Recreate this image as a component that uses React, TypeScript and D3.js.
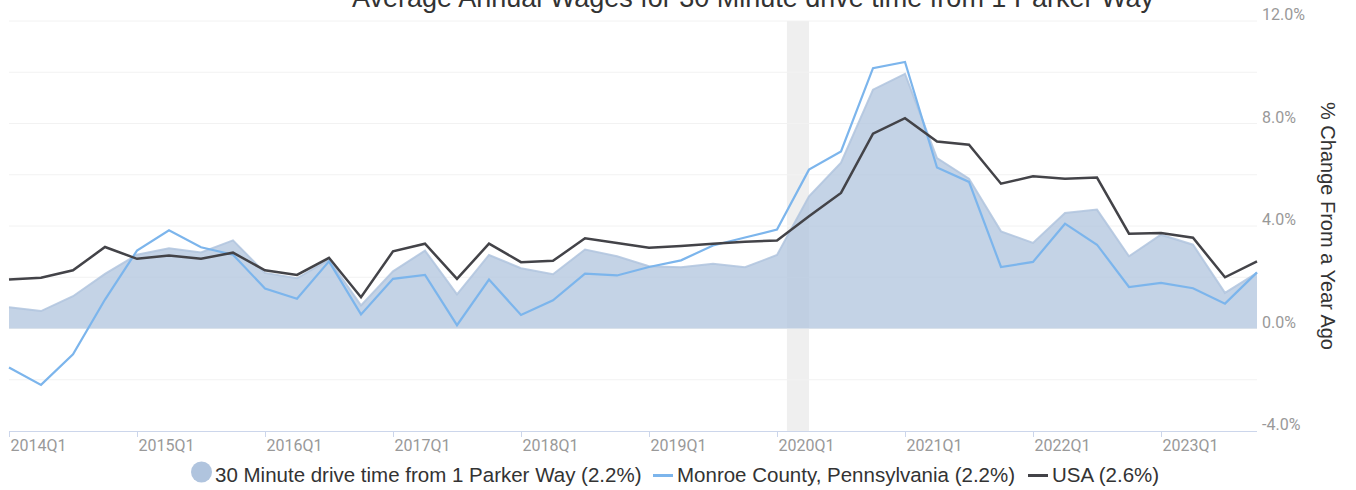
import React, { useEffect, useRef } from 'react';
import * as d3 from 'd3';

// quarters 2014Q1 .. 2023Q4
const years = d3.range(2014, 2024);
const quarters: string[] = years.flatMap((y) => [1, 2, 3, 4].map((q) => `${y}Q${q}`));

const driveTime = [
  0.83, 0.68, 1.26, 2.13, 2.88, 3.13, 2.97, 3.44, 2.17, 1.96,
  2.69, 0.9, 2.23, 3.04, 1.33, 2.87, 2.35, 2.12, 3.08, 2.82,
  2.43, 2.39, 2.53, 2.39, 2.87, 5.16, 6.47, 9.32, 9.94, 6.65,
  5.85, 3.79, 3.34, 4.51, 4.64, 2.82, 3.66, 3.27, 1.39, 2.17,
];
const monroe = [
  -1.52, -2.2, -1.01, 1.13, 3.04, 3.83, 3.17, 2.88, 1.56, 1.16,
  2.62, 0.55, 1.94, 2.09, 0.13, 1.91, 0.53, 1.1, 2.14, 2.07,
  2.4, 2.66, 3.24, 3.55, 3.86, 6.2, 6.91, 10.16, 10.4, 6.28,
  5.72, 2.4, 2.6, 4.09, 3.27, 1.62, 1.78, 1.57, 0.97, 2.19,
];
const usa = [
  1.91, 1.98, 2.27, 3.18, 2.72, 2.85, 2.72, 2.96, 2.27, 2.09,
  2.76, 1.22, 3.01, 3.31, 1.94, 3.31, 2.59, 2.64, 3.52, 3.34,
  3.15, 3.22, 3.31, 3.39, 3.43, 4.38, 5.29, 7.6, 8.21, 7.3,
  7.17, 5.65, 5.94, 5.84, 5.89, 3.7, 3.73, 3.54, 2.0, 2.62,
];

const yTicks = [-4, 0, 4, 8, 12];
const yGrid = [-2, 0, 2, 4, 6, 8, 10, 12];
const xTickLabels = ['2014Q1', '2015Q1', '2016Q1', '2017Q1', '2018Q1', '2019Q1', '2020Q1', '2021Q1', '2022Q1', '2023Q1'];
const recession = [24.31, 25.0]; // Feb 2020 .. Apr 2020, in quarter index units

const title = 'Average Annual Wages for 30 Minute drive time from 1 Parker Way';
const yTitle = '% Change From a Year Ago';
const legendNames = [
  '30 Minute drive time from 1 Parker Way (2.2%)',
  'Monroe County, Pennsylvania (2.2%)',
  'USA (2.6%)',
];

const W = 1356;
const H = 490;
const FONT = 'Roboto, "Liberation Sans", Arial, sans-serif';
const SANS = '"Liberation Sans", Arial, Helvetica, sans-serif';

const App = () => {
  const svgRef = useRef<SVGSVGElement>(null);

  useEffect(() => {
    const svg = d3.select(svgRef.current);
    svg.selectAll('*').remove();

    const left = 9;
    const right = 1257;
    const top = 21;
    const bottom = 431;

    const x = d3.scaleLinear().domain([0, quarters.length - 1]).range([left, right]);
    const y = d3.scaleLinear().domain([-4, 12]).range([bottom, top]);

    // recession band
    svg.append('rect')
      .attr('x', x(recession[0]))
      .attr('y', top)
      .attr('width', x(recession[1]) - x(recession[0]))
      .attr('height', bottom - top)
      .attr('fill', '#efefef');

    // grid
    svg.append('g')
      .selectAll('line')
      .data(yGrid)
      .enter().append('line')
      .attr('x1', left)
      .attr('x2', right)
      .attr('y1', (d) => y(d))
      .attr('y2', (d) => y(d))
      .attr('stroke', '#f2f2f2')
      .attr('stroke-width', 1);

    // area series
    const area = d3.area<number>()
      .x((_, i) => x(i))
      .y0(y(0))
      .y1((d) => y(d));
    svg.append('path')
      .datum(driveTime)
      .attr('d', area)
      .attr('fill', '#b0c4de')
      .attr('fill-opacity', 0.75);

    const line = d3.line<number>()
      .x((_, i) => x(i))
      .y((d) => y(d));

    svg.append('path')
      .datum(driveTime)
      .attr('d', line)
      .attr('fill', 'none')
      .attr('stroke', '#b0c4de')
      .attr('stroke-opacity', 0.85)
      .attr('stroke-width', 2);

    svg.append('path')
      .datum(monroe)
      .attr('d', line)
      .attr('fill', 'none')
      .attr('stroke', '#7cb5ec')
      .attr('stroke-width', 2.2);

    svg.append('path')
      .datum(usa)
      .attr('d', line)
      .attr('fill', 'none')
      .attr('stroke', '#434348')
      .attr('stroke-width', 2.5);

    // x axis
    const xAxis = svg.append('g');
    xAxis.append('line')
      .attr('x1', left)
      .attr('x2', right)
      .attr('y1', bottom + 0.5)
      .attr('y2', bottom + 0.5)
      .attr('stroke', '#ccd6eb');
    const xt = xAxis.selectAll('g.tick')
      .data(xTickLabels)
      .enter().append('g')
      .attr('class', 'tick')
      .attr('transform', (d) => `translate(${Math.round(x(quarters.indexOf(d))) + 0.5},${bottom})`);
    xt.append('line')
      .attr('y1', 0)
      .attr('y2', 6)
      .attr('stroke', '#ccd6eb');
    xt.append('text')
      .attr('x', 1)
      .attr('y', 20)
      .attr('fill', '#999')
      .style('font-family', FONT)
      .style('font-size', '16px')
      .text((d) => d);

    // y axis labels (right)
    svg.append('g')
      .selectAll('text')
      .data(yTicks)
      .enter().append('text')
      .attr('x', right + 5)
      .attr('y', (d) => y(d) - 1)
      .attr('fill', '#999')
      .style('font-family', FONT)
      .style('font-size', '16px')
      .text((d) => `${d.toFixed(1)}%`);

    svg.append('text')
      .attr('transform', `translate(1321, 226) rotate(90)`)
      .attr('text-anchor', 'middle')
      .attr('fill', '#333')
      .style('font-family', SANS)
      .style('font-size', '20px')
      .text(yTitle);

    // title
    svg.append('text')
      .attr('x', 753)
      .attr('y', 7)
      .attr('text-anchor', 'middle')
      .attr('fill', '#333')
      .style('font-family', SANS)
      .style('font-size', '27px')
      .text(title);

    // legend
    const lg = svg.append('g').attr('transform', 'translate(0, 482)');
    lg.append('circle')
      .attr('cx', 201.5)
      .attr('cy', -10)
      .attr('r', 10.5)
      .attr('fill', '#b0c4de');
    lg.append('text')
      .attr('x', 215)
      .attr('y', 0)
      .attr('fill', '#333')
      .style('font-family', SANS)
      .style('font-size', '20.5px')
      .text(legendNames[0]);
    lg.append('line')
      .attr('x1', 653).attr('x2', 673)
      .attr('y1', -6.5).attr('y2', -6.5)
      .attr('stroke', '#7cb5ec')
      .attr('stroke-width', 3);
    lg.append('text')
      .attr('x', 677)
      .attr('y', 0)
      .attr('fill', '#333')
      .style('font-family', SANS)
      .style('font-size', '20.5px')
      .text(legendNames[1]);
    lg.append('line')
      .attr('x1', 1028).attr('x2', 1048)
      .attr('y1', -6.5).attr('y2', -6.5)
      .attr('stroke', '#434348')
      .attr('stroke-width', 3);
    lg.append('text')
      .attr('x', 1052)
      .attr('y', 0)
      .attr('fill', '#333')
      .style('font-family', SANS)
      .style('font-size', '20.5px')
      .text(legendNames[2]);
  }, []);

  return (
    <div style={{ position: 'absolute', left: 0, top: 0 }}>
      <svg ref={svgRef} width={W} height={H} style={{ display: 'block', background: '#fff' }}></svg>
    </div>
  );
};

export default App;
